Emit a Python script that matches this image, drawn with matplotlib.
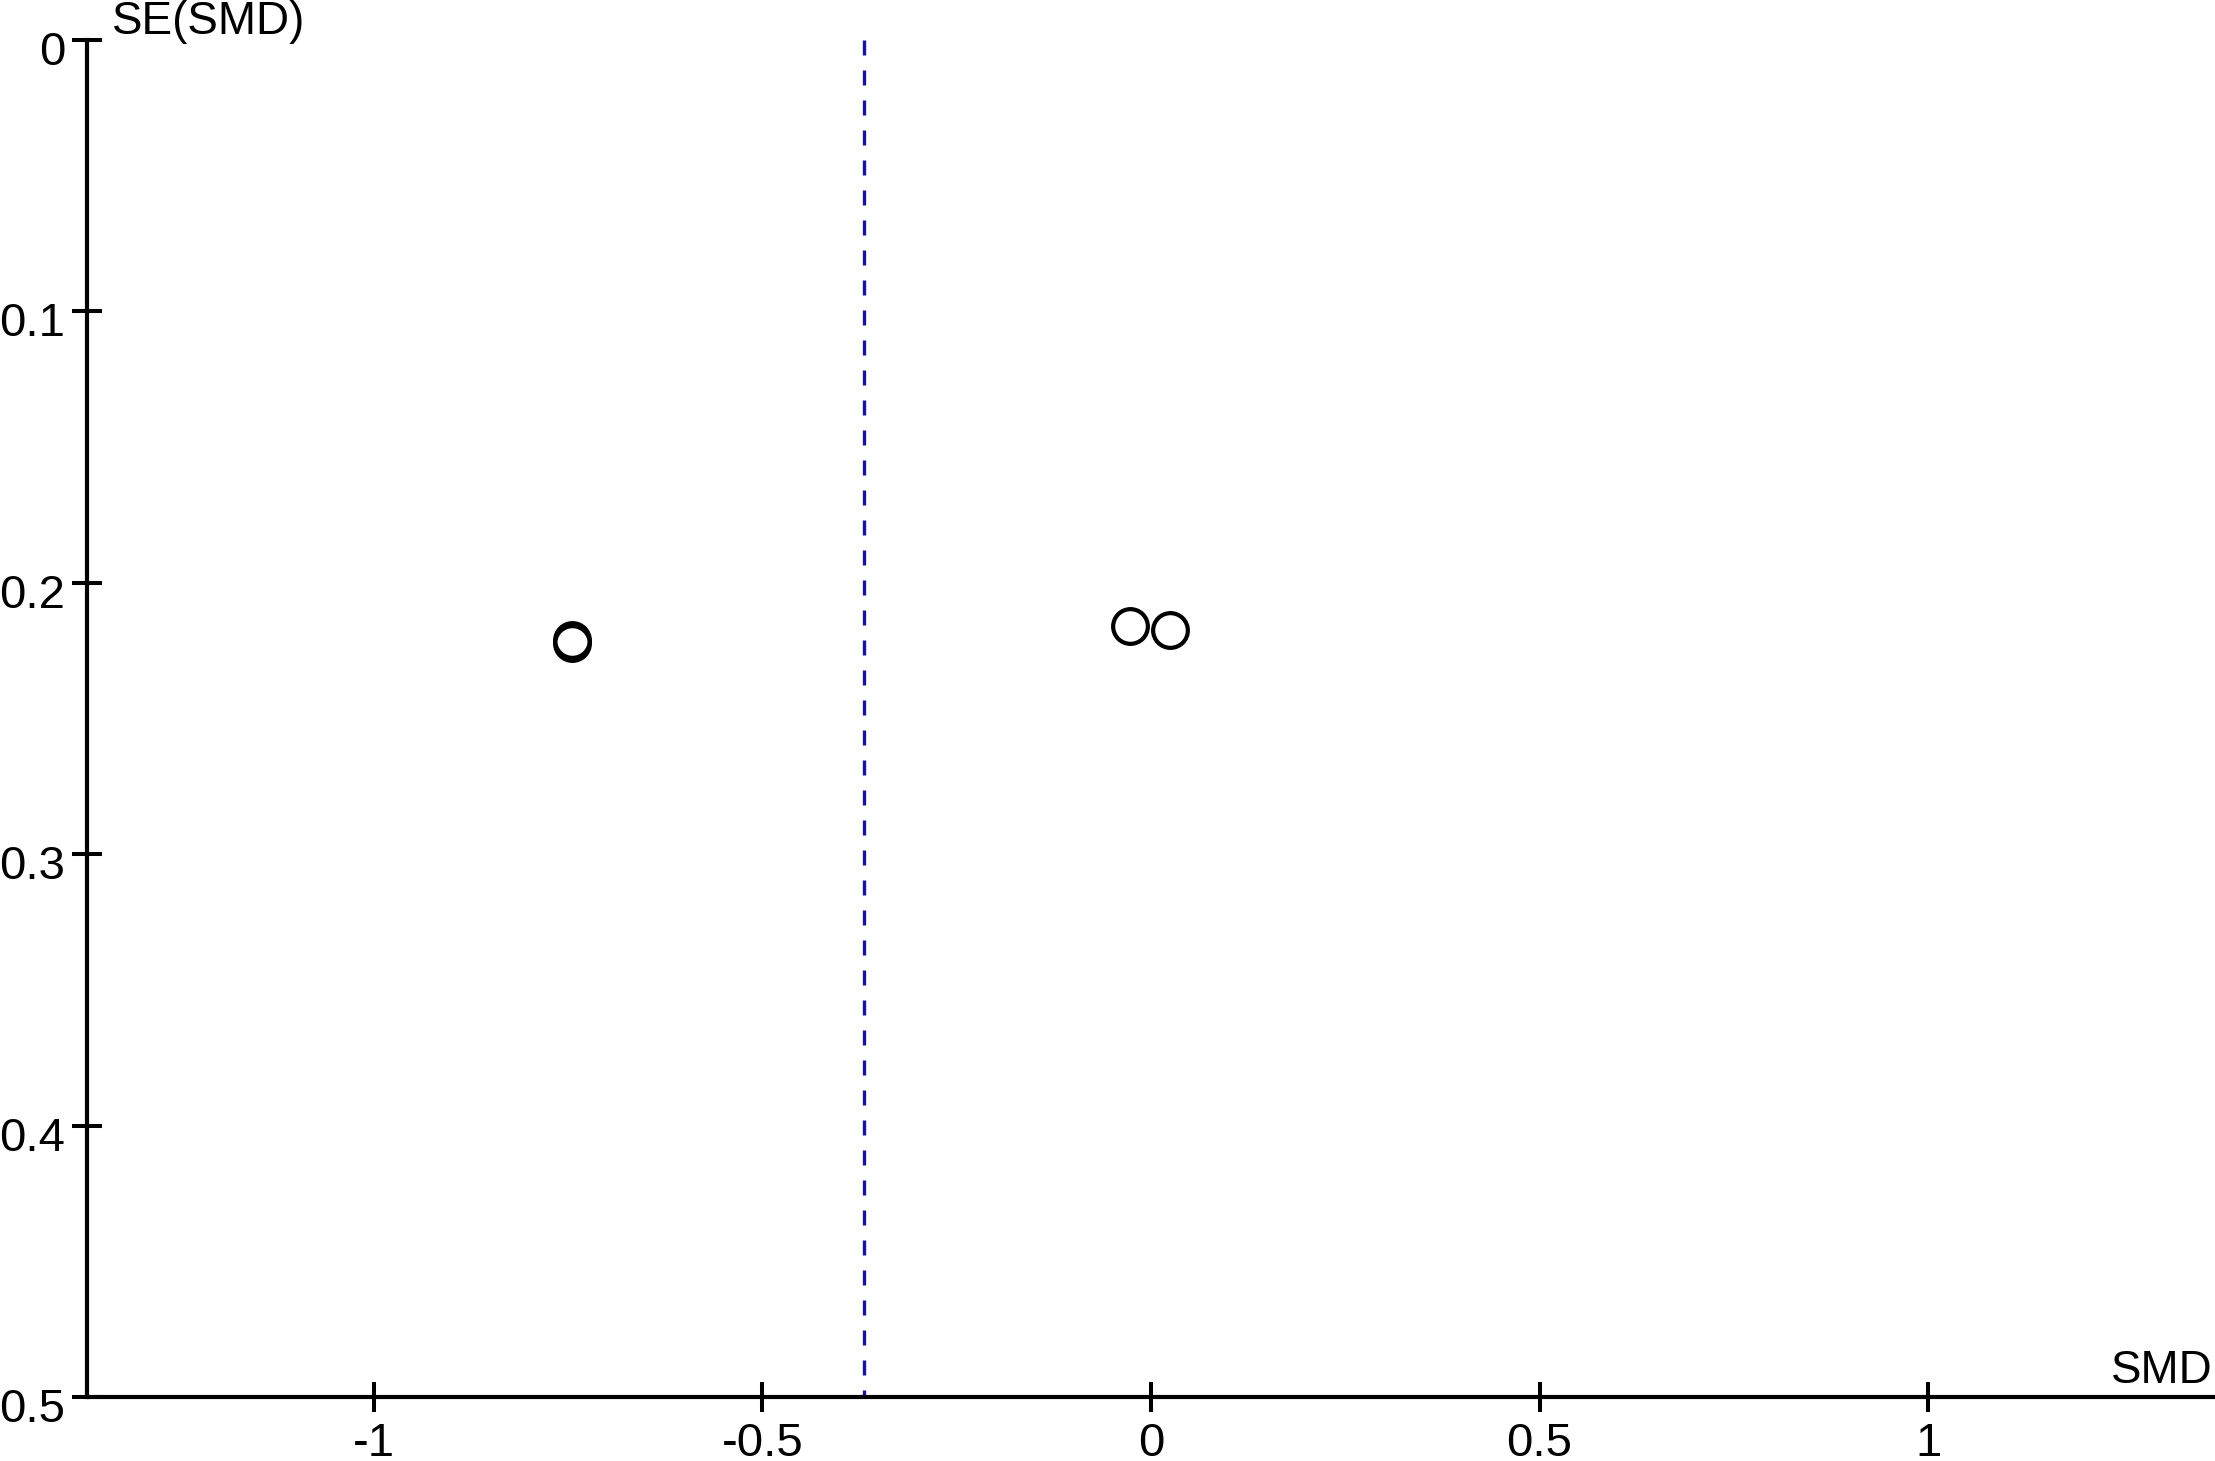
import matplotlib
matplotlib.use("Agg")
import matplotlib.pyplot as plt
from matplotlib.transforms import ScaledTranslation

# funnel plot data
smd = [-0.745, -0.745, -0.027, 0.024]
se_smd = [0.2210, 0.2222, 0.2158, 0.2174]
pooled_smd = -0.369

x_ticks = [-1, -0.5, 0, 0.5, 1]
x_labels = ["-1", "-0.5", "0", "0.5", "1"]
y_ticks = [0, 0.1, 0.2, 0.3, 0.4, 0.5]
y_labels = ["0", "0.1", "0.2", "0.3", "0.4", "0.5"]

plt.rcParams['font.family'] = ['Liberation Sans', 'DejaVu Sans']

W, H = 2215, 1461
fig = plt.figure(figsize=(W / 100, H / 100), dpi=100)
ax = fig.add_axes([87 / W, (H - 1397) / H, (W - 87) / W, (1397 - 40) / H])

ax.plot([pooled_smd, pooled_smd], [0, 0.5], color='#14149e', lw=2.4,
        linestyle=(0, (4.5, 4.5)), zorder=1)
ax.plot(smd, se_smd, linestyle='none', marker='o', markersize=25,
        markerfacecolor='none', markeredgecolor='black', markeredgewidth=3.0,
        zorder=3)

ax.set_xlim(-1.369, 1.369)
ax.set_ylim(0.5, 0)
ax.set_xticks(x_ticks)
ax.set_xticklabels(x_labels)
ax.set_yticks(y_ticks)
ax.set_yticklabels(y_labels)

for side in ['top', 'right']:
    ax.spines[side].set_visible(False)
for side in ['left', 'bottom']:
    ax.spines[side].set_linewidth(3.0)
ax.tick_params(axis='both', direction='inout', length=21.6, width=2.9,
               labelsize=34)
ax.tick_params(axis='y', pad=5)
ax.tick_params(axis='x', pad=7)

# y labels sit a little below their ticks in the original
shift = ScaledTranslation(0, -8 / 100, fig.dpi_scale_trans)
for lab in ax.get_yticklabels():
    lab.set_transform(lab.get_transform() + shift)

fig.text(112 / W, (H - 34) / H, "SE(SMD)", fontsize=33, ha='left', va='baseline')
fig.text(2213 / W, (H - 1383) / H, "SMD", fontsize=33, ha='right', va='baseline')

fig.savefig("out.png", dpi=100)
